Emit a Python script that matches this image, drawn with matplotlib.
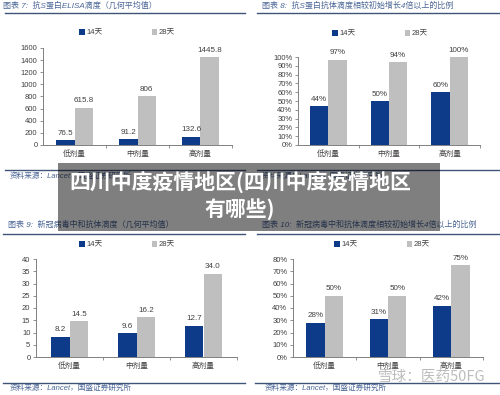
import matplotlib
matplotlib.use("Agg")
import matplotlib.pyplot as plt
from matplotlib.patches import Rectangle
from matplotlib.lines import Line2D

plt.rcParams['font.family'] = ['Liberation Sans', 'Noto Sans CJK SC', 'DejaVu Sans']

categories = ['低剂量', '中剂量', '高剂量']
series_names = ['14天', '28天']

elisa_14 = [76.5, 91.2, 132.6]
elisa_28 = [615.8, 806, 1445.8]
elisa_labels_14 = ['76.5', '91.2', '132.6']
elisa_labels_28 = ['615.8', '806', '1445.8']

elisa4x_14 = [0.44, 0.50, 0.60]
elisa4x_28 = [0.97, 0.94, 1.00]

neut_14 = [8.2, 9.6, 12.7]
neut_28 = [14.5, 16.2, 34.0]

neut4x_14 = [0.28, 0.31, 0.42]
neut4x_28 = [0.50, 0.50, 0.75]

titles = ['图表 7:  抗S蛋白ELISA滴度（几何平均值）',
          '图表 8:  抗S蛋白抗体滴度相较初始增长4倍以上的比例',
          '图表 9:  新冠病毒中和抗体滴度（几何平均值）',
          '图表 10:  新冠病毒中和抗体滴度相较初始增长4倍以上的比例']
source = '资料来源：Lancet，国盛证券研究所'
banner_text = '四川中度疫情地区(四川中度疫情地区\n有哪些)'
watermark = '雪球：医药50FG'

W, H = 500, 395
fig = plt.figure(figsize=(W / 100, H / 100), dpi=100)

BLUE = '#0E3A8A'
GRAY = '#BFBFBF'
TXT = '#404040'
AX = '#808080'
TITLE_C = '#4A6595'
FS = 5.5


def fx(px):
    return px / W


def fy(py):
    return 1 - py / H


def panel(rect_px, v14, v28, ylim, yticks, ytick_labels, lab14, lab28, leg_xy, width):
    x0, y0, x1, y1 = rect_px
    ax = fig.add_axes([fx(x0), fy(y1), fx(x1 - x0), (y1 - y0) / H])
    xs = list(range(len(categories)))
    b1 = ax.bar([x - width / 2 for x in xs], v14, width, color=BLUE, label=series_names[0])
    b2 = ax.bar([x + width / 2 for x in xs], v28, width, color=GRAY, label=series_names[1])
    for bars, labs in ((b1, lab14), (b2, lab28)):
        for rect, lab in zip(bars, labs):
            ax.annotate(lab, (rect.get_x() + rect.get_width() / 2, rect.get_height()),
                        xytext=(0, 2.5), textcoords='offset points', ha='center', va='bottom',
                        fontsize=5.8, color=TXT)
    ax.set_xlim(-0.5, len(categories) - 0.5)
    ax.set_ylim(*ylim)
    ax.set_yticks(yticks)
    ax.set_yticklabels(ytick_labels, fontsize=FS, color=TXT)
    ax.set_xticks(xs)
    ax.set_xticklabels(categories, fontsize=FS, color=TXT)
    ax.tick_params(axis='x', length=0, pad=4)
    ax.set_xticks([0.5, 1.5, 2.5], minor=True)
    ax.tick_params(axis='x', which='minor', length=2.5, color=AX, width=0.6)
    ax.tick_params(axis='y', length=2, color=AX, width=0.6, pad=2)
    for s in ('top', 'right'):
        ax.spines[s].set_visible(False)
    for s in ('left', 'bottom'):
        ax.spines[s].set_color(AX)
        ax.spines[s].set_linewidth(0.7)
    ax.legend(loc='center', bbox_to_anchor=(fx(leg_xy[0]), fy(leg_xy[1])),
              bbox_transform=fig.transFigure, ncol=2, frameon=False, fontsize=FS,
              handlelength=0.7, handleheight=0.7, handletextpad=0.2, columnspacing=6.5,
              labelcolor=TXT)
    return ax


panel((43, 48, 232, 145), elisa_14, elisa_28, (0, 1600), list(range(0, 1601, 200)),
      [str(v) for v in range(0, 1601, 200)], elisa_labels_14, elisa_labels_28, (127, 33), 0.29)

pct = lambda vals: ['%d%%' % round(v * 100) for v in vals]
panel((298, 57, 480, 145), elisa4x_14, elisa4x_28, (0, 1.0), [i / 10 for i in range(11)],
      ['%d%%' % (i * 10) for i in range(11)], pct(elisa4x_14), pct(elisa4x_28), (380, 34), 0.30)

panel((36, 259, 237, 357), neut_14, neut_28, (0, 40), list(range(0, 41, 5)),
      [str(v) for v in range(0, 41, 5)], ['%.1f' % v for v in neut_14], ['%.1f' % v for v in neut_28],
      (127, 245), 0.28)

panel((293, 259, 483, 357), neut4x_14, neut4x_28, (0, 0.8), [i / 10 for i in range(9)],
      ['%d%%' % (i * 10) for i in range(9)], pct(neut4x_14), pct(neut4x_28), (382, 245), 0.29)

# titles, separator lines, sources
title_pos = [(3, 6), (262, 6), (8, 225), (262, 225)]
for t, (x, y) in zip(titles, title_pos):
    fig.text(fx(x), fy(y), t, fontsize=5.8, color=TITLE_C, style='italic', va='center', ha='left')

for (xa, xb, y) in [(5, 245, 13), (257, 500, 13), (5, 245, 170), (257, 500, 170),
                    (3, 245, 234), (257, 500, 234), (3, 245, 383), (255, 500, 383)]:
    fig.add_artist(Line2D([fx(xa), fx(xb)], [fy(y), fy(y)], color='#3F5478', lw=1.0,
                          transform=fig.transFigure))

for (x, y) in [(10, 176), (262, 176), (10, 388), (265, 388)]:
    fig.text(fx(x), fy(y), source, fontsize=5.5, color=TITLE_C, style='italic', va='center', ha='left')

# banner overlay
fig.add_artist(Rectangle((fx(58), fy(231)), fx(440 - 58), (231 - 163) / H, transform=fig.transFigure,
                         facecolor='black', alpha=0.5, edgecolor='none', zorder=10))
fig.text(fx(240), fy(196), banner_text, fontsize=15, fontweight='bold', color='white',
         ha='center', va='center', linespacing=1.25, zorder=11,
         family=['Noto Sans CJK SC', 'DejaVu Sans'])

# watermark
fig.text(fx(378), fy(377), watermark, fontsize=10.5, color='#A0A0A0', alpha=0.7,
         ha='left', va='center', zorder=12, family=['Noto Sans CJK SC', 'DejaVu Sans'])

fig.savefig('out.png', dpi=100)
